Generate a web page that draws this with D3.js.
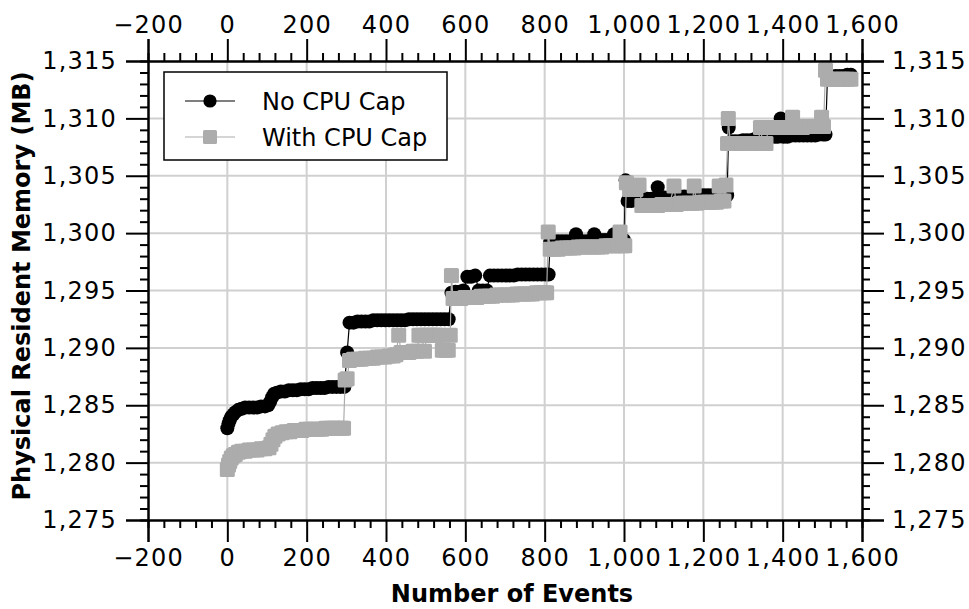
<!DOCTYPE html>
<html>
<head>
<meta charset="utf-8">
<script src="https://cdn.jsdelivr.net/npm/d3@7"></script>
<style>
  html, body { margin: 0; padding: 0; background: #fff; }
  svg { display: block; font-family: "DejaVu Sans", Verdana, sans-serif; }
</style>
</head>
<body>
<svg id="chart" width="969" height="609"></svg>
<script>
// ---------------- data (event number, physical resident memory in MB) ----------------
const seriesNames = ["No CPU Cap", "With CPU Cap"];
const xTicks = [-200, 0, 200, 400, 600, 800, 1000, 1200, 1400, 1600];
const yTicks = [1275, 1280, 1285, 1290, 1295, 1300, 1305, 1310, 1315];

const noCapPoints = [
 [0,1283.0],[3,1283.4],[6,1283.7],[10,1284.0],[15,1284.2],[20,1284.4],[28,1284.6],[36,1284.7],[45,1284.8],[55,1284.8],
 [65,1284.8],[75,1284.8],[85,1284.9],[95,1284.9],[103,1285.0],[108,1285.3],[113,1285.7],[118,1286.0],[125,1286.1],[135,1286.2],
 [145,1286.2],[155,1286.3],[165,1286.3],[175,1286.3],[185,1286.4],[195,1286.4],[205,1286.4],[215,1286.5],[225,1286.5],[235,1286.5],
 [245,1286.5],[255,1286.6],[265,1286.6],[275,1286.6],[285,1286.6],[295,1286.6],[302,1289.6],[308,1292.2],[318,1292.2],[328,1292.3],
 [338,1292.3],[348,1292.3],[358,1292.3],[368,1292.4],[378,1292.4],[388,1292.4],[398,1292.4],[408,1292.4],[418,1292.4],[428,1292.4],
 [438,1292.4],[448,1292.4],[458,1292.5],[468,1292.5],[478,1292.5],[488,1292.5],[498,1292.5],[508,1292.5],[518,1292.5],[528,1292.5],
 [538,1292.5],[548,1292.5],[558,1292.5],[565,1294.8],[575,1294.9],[585,1294.9],[595,1295.0],[605,1296.2],[615,1296.2],[625,1296.3],
 [634,1295.0],[644,1295.0],[654,1295.0],[662,1296.3],[672,1296.3],[682,1296.3],[692,1296.3],[702,1296.3],[712,1296.3],[722,1296.3],
 [732,1296.4],[742,1296.4],[752,1296.4],[762,1296.4],[772,1296.4],[782,1296.4],[792,1296.4],[802,1296.4],[810,1296.4],[814,1299.2],
 [824,1299.3],[834,1299.3],[844,1299.3],[854,1299.3],[864,1299.3],[872,1299.3],[879,1299.9],[886,1299.3],[896,1299.3],[906,1299.3],
 [916,1299.3],[925,1299.9],[932,1299.3],[942,1299.4],[952,1299.4],[962,1299.4],[975,1299.9],[982,1299.4],[992,1299.4],[1000,1299.4],
 [1004,1304.6],[1009,1302.8],[1019,1302.8],[1029,1302.9],[1039,1302.9],[1049,1302.9],[1059,1303.0],[1069,1303.0],[1078,1303.0],[1085,1304.0],
 [1092,1303.1],[1102,1303.1],[1112,1303.1],[1122,1303.2],[1132,1303.2],[1142,1303.2],[1152,1303.2],[1162,1303.2],[1172,1303.2],[1182,1303.3],
 [1192,1303.3],[1202,1303.3],[1212,1303.3],[1222,1303.3],[1232,1303.3],[1242,1303.3],[1252,1303.3],[1260,1303.3],[1264,1309.2],[1270,1308.0],
 [1280,1308.0],[1290,1308.0],[1300,1308.1],[1310,1308.1],[1320,1308.1],[1330,1308.2],[1340,1308.3],[1350,1308.3],[1360,1308.3],[1370,1308.4],
 [1380,1308.4],[1388,1308.4],[1395,1310.0],[1402,1308.4],[1412,1308.4],[1422,1308.5],[1432,1308.5],[1442,1308.5],[1452,1308.5],[1462,1308.5],
 [1472,1308.5],[1482,1308.5],[1492,1308.6],[1502,1308.6],[1508,1308.6],[1513,1313.6],[1523,1313.6],[1533,1313.7],[1543,1313.7],[1553,1313.7],
 [1563,1313.8],[1572,1313.8]
];

const withCapPoints = [
 [0,1279.4],[3,1279.8],[6,1280.1],[10,1280.4],[15,1280.6],[20,1280.7],[28,1280.9],[36,1281.0],[45,1281.0],[55,1281.1],
 [65,1281.1],[75,1281.1],[85,1281.2],[95,1281.2],[105,1281.3],[110,1281.6],[115,1282.0],[120,1282.3],[128,1282.5],[138,1282.6],
 [148,1282.7],[158,1282.7],[168,1282.8],[178,1282.8],[188,1282.8],[198,1282.9],[208,1282.9],[218,1282.9],[228,1282.9],[238,1282.9],
 [248,1283.0],[258,1283.0],[268,1283.0],[278,1283.0],[288,1283.0],[293,1283.0],[297,1287.2],[302,1287.3],[308,1288.9],[318,1289.0],
 [328,1289.0],[338,1289.0],[348,1289.1],[358,1289.1],[368,1289.1],[378,1289.2],[388,1289.2],[398,1289.2],[408,1289.3],[418,1289.3],
 [425,1289.4],[432,1291.1],[438,1289.6],[448,1289.6],[458,1289.6],[468,1289.7],[478,1289.7],[483,1291.1],[490,1291.1],[497,1289.7],
 [503,1291.1],[512,1291.1],[520,1291.1],[528,1291.1],[535,1291.1],[542,1289.8],[550,1289.8],[557,1289.8],[562,1291.1],[565,1296.3],
 [569,1294.3],[579,1294.3],[589,1294.3],[599,1294.4],[609,1294.4],[619,1294.4],[629,1294.4],[639,1294.5],[649,1294.5],[659,1294.5],
 [669,1294.5],[679,1294.6],[689,1294.6],[699,1294.6],[709,1294.6],[719,1294.6],[729,1294.7],[739,1294.7],[749,1294.7],[759,1294.7],
 [769,1294.7],[779,1294.8],[789,1294.8],[799,1294.8],[805,1294.8],[809,1300.1],[814,1298.6],[824,1298.6],[834,1298.6],[844,1298.7],
 [854,1298.7],[864,1298.7],[874,1298.7],[884,1298.8],[894,1298.8],[904,1298.8],[914,1298.8],[924,1298.8],[934,1298.8],[944,1298.8],
 [954,1298.9],[964,1298.9],[974,1298.9],[984,1298.9],[990,1300.1],[996,1298.9],[1002,1298.9],[1006,1304.4],[1014,1303.8],[1022,1304.0],
 [1030,1303.8],[1038,1304.2],[1045,1302.4],[1055,1302.4],[1065,1302.4],[1075,1302.4],[1085,1302.4],[1095,1302.5],[1105,1302.5],[1115,1302.5],
 [1126,1304.1],[1132,1302.5],[1142,1302.6],[1152,1302.6],[1162,1302.6],[1172,1302.6],[1177,1304.1],[1183,1302.6],[1193,1302.7],[1203,1302.7],
 [1213,1302.7],[1223,1302.7],[1233,1302.7],[1240,1304.1],[1245,1302.8],[1252,1302.8],[1257,1304.2],[1261,1307.8],[1263,1310.0],[1268,1307.8],
 [1278,1307.8],[1288,1307.8],[1298,1307.8],[1308,1307.8],[1318,1307.8],[1328,1307.8],[1338,1307.8],[1344,1309.2],[1350,1307.8],[1358,1307.8],
 [1364,1309.2],[1374,1309.2],[1384,1309.2],[1394,1309.2],[1404,1309.2],[1414,1309.2],[1425,1310.1],[1430,1309.2],[1440,1309.2],[1450,1309.2],
 [1460,1309.3],[1470,1309.3],[1480,1309.3],[1490,1309.3],[1498,1310.1],[1503,1309.3],[1508,1314.2],[1513,1313.4],[1523,1313.4],[1533,1313.4],
 [1543,1313.4],[1553,1313.4],[1563,1313.4],[1572,1313.4]
];

// ---------------- layout ----------------
const svg = d3.select("#chart");
const L = 148, R = 862, T = 61, B = 520;
const x = d3.scaleLinear().domain([-200, 1600]).range([L, R]);
const y = d3.scaleLinear().domain([1275, 1315]).range([B, T]);
const fmt = d3.format(",");
const GRAY = "#acacac";
const R_DOT = 7, S = 15;

// grid
const grid = svg.append("g");
grid.selectAll("line.vx").data(xTicks.slice(1, -1)).join("line")
  .attr("x1", d => x(d)).attr("x2", d => x(d)).attr("y1", T).attr("y2", B)
  .attr("stroke", "#d0d0d0").attr("stroke-width", 2);
grid.selectAll("line.hy").data(yTicks.slice(1, -1)).join("line")
  .attr("x1", L).attr("x2", R).attr("y1", d => y(d)).attr("y2", d => y(d))
  .attr("stroke", "#d0d0d0").attr("stroke-width", 2);

// data series
const line = d3.line().x(d => x(d[0])).y(d => y(d[1]));
const plot = svg.append("g");

plot.append("path").datum(noCapPoints).attr("d", line)
  .attr("fill", "none").attr("stroke", "#000").attr("stroke-width", 1.2);
plot.selectAll("circle.nc").data(noCapPoints).join("circle")
  .attr("cx", d => x(d[0])).attr("cy", d => y(d[1])).attr("r", R_DOT).attr("fill", "#000");

plot.append("path").datum(withCapPoints).attr("d", line)
  .attr("fill", "none").attr("stroke", GRAY).attr("stroke-width", 1.2);
plot.selectAll("rect.wc").data(withCapPoints).join("rect")
  .attr("x", d => x(d[0]) - S / 2).attr("y", d => y(d[1]) - S / 2)
  .attr("width", S).attr("height", S).attr("rx", 1.5).attr("fill", GRAY);

// axes
function styleAxis(g) {
  g.select(".domain").attr("stroke", "#000").attr("stroke-width", 2);
  g.selectAll(".tick line").attr("stroke", "#000").attr("stroke-width", 2);
  g.selectAll(".tick text").attr("font-size", 24).attr("fill", "#000")
    .attr("letter-spacing", "1.2px")
    .attr("font-family", "'DejaVu Sans', Verdana, sans-serif");
}
const xMinor = d3.range(-200, 1601, 40).filter(v => v % 200 !== 0);
const yMinor = d3.range(1275, 1316, 1).filter(v => v % 5 !== 0);

// minor ticks
svg.append("g").attr("transform", `translate(0,${B})`)
  .call(d3.axisBottom(x).tickValues(xMinor).tickSize(8).tickFormat("")).call(styleAxis);
svg.append("g").attr("transform", `translate(0,${T})`)
  .call(d3.axisTop(x).tickValues(xMinor).tickSize(8).tickFormat("")).call(styleAxis);
svg.append("g").attr("transform", `translate(${L},0)`)
  .call(d3.axisLeft(y).tickValues(yMinor).tickSize(8).tickFormat("")).call(styleAxis);
svg.append("g").attr("transform", `translate(${R},0)`)
  .call(d3.axisRight(y).tickValues(yMinor).tickSize(8).tickFormat("")).call(styleAxis);

// major ticks + labels
svg.append("g").attr("transform", `translate(0,${B})`)
  .call(d3.axisBottom(x).tickValues(xTicks).tickSize(22).tickPadding(7).tickFormat(fmt)).call(styleAxis);
svg.append("g").attr("transform", `translate(0,${T})`)
  .call(d3.axisTop(x).tickValues(xTicks).tickSize(22).tickPadding(6).tickFormat(fmt)).call(styleAxis);
svg.append("g").attr("transform", `translate(${L},0)`)
  .call(d3.axisLeft(y).tickValues(yTicks).tickSize(22).tickPadding(9).tickFormat(fmt)).call(styleAxis);
svg.append("g").attr("transform", `translate(${R},0)`)
  .call(d3.axisRight(y).tickValues(yTicks).tickSize(22).tickPadding(8).tickFormat(fmt)).call(styleAxis);

// axis titles
svg.append("text").attr("x", 512).attr("y", 602)
  .attr("text-anchor", "middle").attr("font-weight", "bold").attr("font-size", 24)
  .text("Number of Events");
svg.append("text").attr("transform", `translate(30,286) rotate(-90)`)
  .attr("text-anchor", "middle").attr("font-weight", "bold").attr("font-size", 24)
  .text("Physical Resident Memory (MB)");

// legend
const lg = svg.append("g");
lg.append("rect").attr("x", 164).attr("y", 72).attr("width", 283).attr("height", 88)
  .attr("fill", "#fff").attr("stroke", "#000").attr("stroke-width", 1.5);
const ly = [101, 137];
lg.append("line").attr("x1", 185).attr("x2", 235).attr("y1", ly[0]).attr("y2", ly[0])
  .attr("stroke", "#000").attr("stroke-width", 1.2);
lg.append("circle").attr("cx", 210).attr("cy", ly[0]).attr("r", 6.6).attr("fill", "#000");
lg.append("line").attr("x1", 185).attr("x2", 235).attr("y1", ly[1]).attr("y2", ly[1])
  .attr("stroke", GRAY).attr("stroke-width", 1.2);
lg.append("rect").attr("x", 210 - 7).attr("y", ly[1] - 7).attr("width", 14).attr("height", 14)
  .attr("rx", 1.5).attr("fill", GRAY);
lg.selectAll("text").data(seriesNames).join("text")
  .attr("x", 262).attr("y", (d, i) => ly[i] + 9)
  .attr("font-size", 24).text(d => d);
</script>
</body>
</html>
